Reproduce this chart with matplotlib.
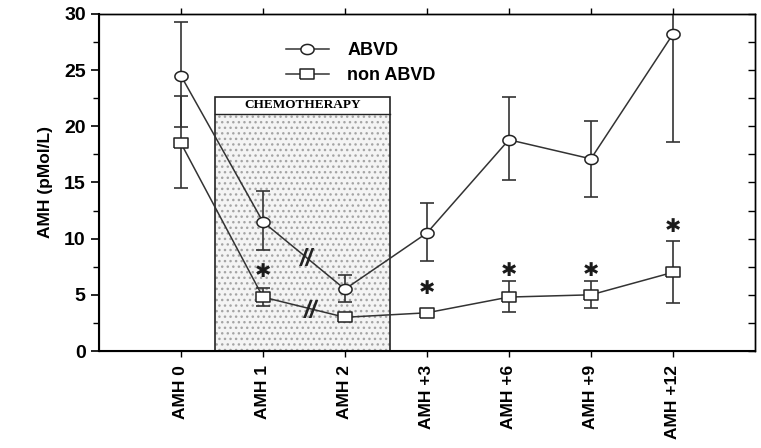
import matplotlib
matplotlib.use("Agg")
import matplotlib.pyplot as plt
import numpy as np
from matplotlib.path import Path
from matplotlib.patches import Rectangle

plt.rcParams['font.family'] = ['Liberation Sans', 'DejaVu Sans']

categories = ["AMH 0", "AMH 1", "AMH 2", "AMH +3", "AMH +6", "AMH +9", "AMH +12"]
abvd = [24.5, 11.5, 5.5, 10.5, 18.8, 17.1, 28.2]
abvd_up = [29.3, 14.2, 6.8, 13.2, 22.6, 20.5, 32.0]
abvd_lo = [19.9, 9.0, 4.4, 8.0, 15.2, 13.7, 18.6]
non = [18.5, 4.8, 3.0, 3.4, 4.8, 5.0, 7.0]
non_up = [22.7, 5.6, 3.0, 3.4, 6.2, 6.2, 9.8]
non_lo = [14.5, 4.0, 3.0, 3.4, 3.5, 3.8, 4.3]
star_idx = [1, 3, 4, 5, 6]
star_y = [7.1, 5.6, 7.2, 7.2, 11.1]

fig = plt.figure(figsize=(7.61, 4.48), dpi=100)
ax = fig.add_axes([0.130, 0.2165, 0.862, 0.7525])
x = np.arange(len(categories))

# chemotherapy box
ax.add_patch(Rectangle((0.42, 0), 2.55 - 0.42, 21.1, facecolor='#f4f4f4',
                       edgecolor='#a5a5a5', hatch='...', linewidth=0, zorder=1))
ax.add_patch(Rectangle((0.42, 0), 2.55 - 0.42, 22.6, fill=False,
                       edgecolor='#222222', linewidth=1.2, zorder=2))
ax.plot([0.42, 2.55], [21.1, 21.1], color='#222222', lw=1.0, zorder=2)
ax.text((0.42 + 2.55) / 2, 21.85, "CHEMOTHERAPY", ha='center', va='center',
        fontsize=9.5, fontweight='bold', family=['Liberation Serif'], zorder=3)

t = np.linspace(0, 2 * np.pi, 60)
ell = Path(np.column_stack([1.3 * np.cos(t), np.sin(t)]))
rect = Path([(-1.2, -1), (1.2, -1), (1.2, 1), (-1.2, 1), (-1.2, -1)])

a = np.array(abvd); n = np.array(non)
ax.errorbar(x, a, yerr=[a - np.array(abvd_lo), np.array(abvd_up) - a], fmt='none',
            ecolor='#333333', elinewidth=1.2, capsize=5, capthick=1.2, zorder=3)
ax.errorbar(x, n, yerr=[n - np.array(non_lo), np.array(non_up) - n], fmt='none',
            ecolor='#333333', elinewidth=1.2, capsize=5, capthick=1.2, zorder=3)
ax.plot(x, a, color='#333333', lw=1.1, marker=ell, markersize=9.5,
        markerfacecolor='white', markeredgecolor='#222222', markeredgewidth=1.1,
        zorder=4, label='ABVD')
ax.plot(x, n, color='#333333', lw=1.1, marker=rect, markersize=9.5,
        markerfacecolor='white', markeredgecolor='#222222', markeredgewidth=1.1,
        zorder=4, label='non ABVD')

for i, yv in zip(star_idx, star_y):
    ax.text(x[i], yv, '✱', ha='center', va='center', fontsize=14,
            color='#1a1a1a', family=['DejaVu Sans'], zorder=5)

# break marks
for (bx, by) in [(1.53, 8.1), (1.58, 3.55)]:
    ax.text(bx, by, '//', ha='center', va='center', fontsize=17, fontweight='bold',
            style='italic', color='#222222', zorder=5)

ax.set_xlim(-1, 7)
ax.set_ylim(0, 30)
ax.set_xticks(x)
ax.set_xticklabels(categories, rotation=90, fontsize=12.5, fontweight='bold')
ax.set_yticks([0, 5, 10, 15, 20, 25, 30])
ax.set_yticks(np.arange(0, 30.1, 2.5), minor=True)
ax.tick_params(axis='y', which='major', labelsize=14, width=1.2, length=6, direction='out')
ax.tick_params(axis='y', which='minor', width=1.0, length=4, direction='out')
for lab in ax.get_yticklabels():
    lab.set_fontweight('bold')
ax.tick_params(axis='x', which='major', width=1.0, length=4, direction='out',
               top=True, pad=6)
ax.set_ylabel("AMH (pMol/L)", fontsize=12.5, fontweight='bold', labelpad=8)

# right spine inner ticks
ax2 = ax.twinx()
ax2.set_ylim(0, 30)
ax2.set_yticks(np.arange(0, 30.1, 2.5))
ax2.tick_params(axis='y', direction='in', length=5, width=1.0, labelright=False)
for sp in ['left', 'bottom']:
    ax.spines[sp].set_linewidth(1.5)
for sp in ['top', 'right']:
    ax.spines[sp].set_linewidth(1.0)
    ax2.spines[sp].set_linewidth(1.0)

leg = ax.legend(loc='upper left', bbox_to_anchor=(0.26, 0.965), frameon=False,
                prop={'weight': 'bold', 'size': 13}, handlelength=2.4,
                labelspacing=0.45, handletextpad=1.0)

fig.savefig("out.png", dpi=100)
